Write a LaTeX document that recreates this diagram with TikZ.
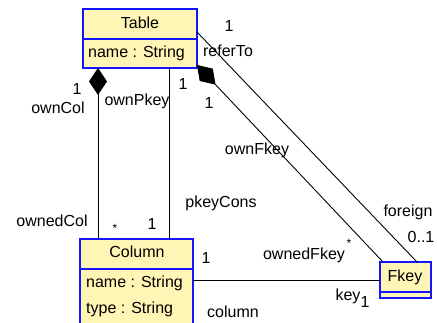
\documentclass[tikz,border=0pt]{standalone}
\usepackage{fontspec}
\setmainfont{Liberation Sans}
\usetikzlibrary{arrows.meta}
\definecolor{boxfill}{RGB}{255,245,180}
\definecolor{boxline}{RGB}{20,20,255}
\begin{document}
\begin{tikzpicture}[x=1pt,y=-1pt,
  umlbox/.style={draw=boxline,line width=1.5pt,fill=boxfill,inner sep=0pt},
  lbl/.style={inner sep=0pt,font=\fontsize{16}{19}\selectfont,text height=11.5pt,text depth=3.4pt},
  star/.style={inner sep=0pt,font=\fontsize{12}{14}\selectfont},
  conn/.style={draw=black,line width=0.9pt},
  comp/.style={conn,{Diamond[length=27pt,width=18pt]}-}]
\useasboundingbox (0,0) rectangle (437,323);
\clip (0,0) rectangle (437,323);
\fill[white] (0,0) rectangle (437,323);
% boxes
\node[umlbox,minimum width=114pt,minimum height=59pt] (table) at (140,38.5) {};
\draw[boxline,line width=1.5pt] (83,39) -- (197,39);
\node[lbl] (tablet) at (140,24) {Table};
\node[lbl,anchor=west] (tablea) at (88,53) {name : String};

\node[umlbox,minimum width=113pt,minimum height=101pt] (column) at (136.5,289.5) {};
\draw[boxline,line width=1.5pt] (80,269) -- (193,269);
\node[lbl] (columnt) at (137,253) {Column};
\node[lbl,anchor=west] (columna) at (86,283) {name : String};
\node[lbl,anchor=west] (columnb) at (86,309) {type : String};

\node[umlbox,minimum width=51pt,minimum height=36pt] (fkey) at (405.5,280) {};
\draw[boxline,line width=1.5pt] (380,292) -- (431,292);
\node[lbl] (fkeyt) at (405,277) {Fkey};

% connection points
\coordinate (tA) at (98,68);
\coordinate (cA) at (98,239);
\coordinate (tB) at (169,68);
\coordinate (cB) at (169,239);
\coordinate (tC) at (197,32);
\coordinate (fC) at (417,262);
\coordinate (tD) at (197,65);
\coordinate (fD) at (383,262);
\coordinate (cE) at (193,280);
\coordinate (fE) at (380,280);

\draw[comp] (tA) -- (cA);
\draw[conn] (tB) -- (cB);
\draw[conn] (tC) -- (fC);
\draw[comp] (tD) -- (fD);
\draw[conn] (cE) -- (fE);

% labels
\node[lbl] (l1) at (229,27) {1};
\node[lbl] (l2) at (228,52) {referTo};
\node[lbl] (l3) at (77,90) {1};
\node[lbl] (l4) at (58,109) {ownCol};
\node[lbl] (l5) at (183,85) {1};
\node[lbl] (l6) at (137,101) {ownPkey};
\node[lbl] (l7) at (209,104) {1};
\node[lbl] (l8) at (257,150) {ownFkey};
\node[lbl] (l9) at (221,203) {pkeyCons};
\node[lbl] (l10) at (52,222) {ownedCol};
\node[star] (l11) at (115,228) {*};
\node[lbl] (l12) at (152,225) {1};
\node[lbl] (l13) at (206,259) {1};
\node[lbl] (l14) at (233,313) {column};
\node[lbl] (l15) at (408,212) {foreign};
\node[lbl] (l16) at (421,238) {0..1};
\node[lbl] (l17) at (304,255) {ownedFkey};
\node[star] (l18) at (349,243) {*};
\node[lbl] (l19) at (348,296) {key};
\node[lbl] (l20) at (365,303) {1};
\end{tikzpicture}
\end{document}
